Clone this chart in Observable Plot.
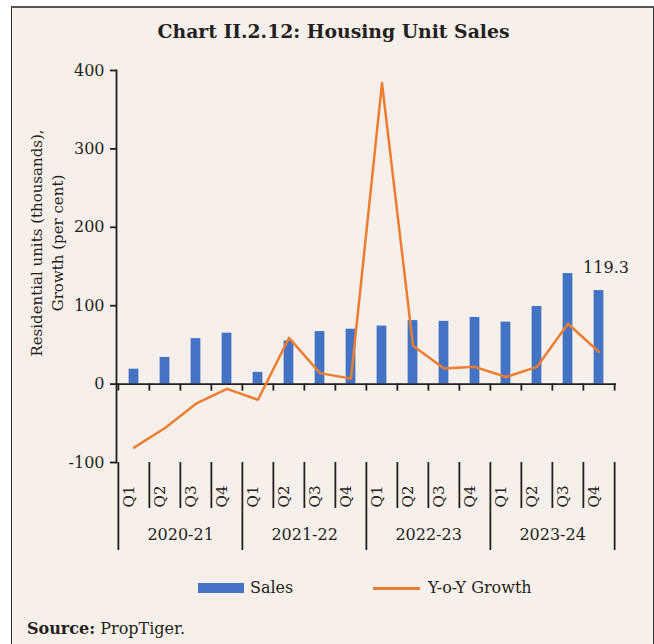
<!DOCTYPE html>
<html>
<head>
<meta charset="utf-8">
<script src="https://cdn.jsdelivr.net/npm/d3@7"></script>
<script src="https://cdn.jsdelivr.net/npm/@observablehq/plot@0.6"></script>
<style>
  html, body { margin: 0; padding: 0; background: #ffffff; }
  body { width: 654px; height: 644px; position: relative; overflow: hidden; font-family: "DejaVu Serif", serif; color: #231f20; }
  #panel { position: absolute; left: 11px; top: 6px; width: 641px; height: 660px; background: #f7efea; border-left: 1.5px solid #333; border-right: 1.5px solid #333; border-top: 2px solid #555; }
  #title { position: absolute; left: 0; width: 667px; top: 19px; text-align: center; font-weight: bold; font-size: 18.8px; line-height: 24px; }
  #ytitle { position: absolute; width: 320px; height: 42px; left: -112.5px; top: 222px; transform: rotate(-90deg); text-align: center; font-size: 15px; line-height: 21px; }
  #chart { position: absolute; left: 0; top: 0; }
  .leg { position: absolute; font-size: 16px; line-height: 18px; }
  #source { position: absolute; left: 27px; top: 620px; font-size: 16px; line-height: 18px; }
</style>
</head>
<body>
<div id="panel"></div>
<div id="title">Chart II.2.12: Housing Unit Sales</div>
<div id="ytitle">Residential units (thousands),<br>Growth (per cent)</div>
<div id="chart"></div>
<div class="leg" style="left:198px;top:583px;width:46px;height:10px;background:#4472c4"></div>
<div class="leg" style="left:250px;top:579px;">Sales</div>
<div class="leg" style="left:373px;top:587px;width:47px;height:2.5px;background:#ed7d31"></div>
<div class="leg" style="left:428px;top:579px;">Y-o-Y Growth</div>
<div id="source"><b>Source:</b> PropTiger.</div>
<script>
const years = ["2020-21", "2021-22", "2022-23", "2023-24"];
const quarters = ["Q1", "Q2", "Q3", "Q4"];
const sales = [19, 34, 58, 65, 15, 55, 67, 70, 74, 81, 80, 85, 79, 99, 141, 119.3];
const growth = [-81, -56, -25, -6, -20, 59, 14, 7, 384, 49, 20, 22, 9, 22, 77, 41];
const yTicks = [-100, 0, 100, 200, 300, 400];
const lastLabel = "119.3";

const cats = years.flatMap(y => quarters.map(q => `${y} ${q}`));
const data = cats.map((c, i) => ({cat: c, year: years[Math.floor(i / 4)], q: quarters[i % 4], sales: sales[i], growth: growth[i]}));

const W = 654, H = 560, mL = 116, mR = 38, mT = 70, mB = 98;
const bw = (W - mL - mR) / cats.length;
const barW = 10;
const ins = (bw - barW) / 2;
const ink = "#231f20";
const yMin = d3.min(yTicks);
const last = data[data.length - 1];

const chart = Plot.plot({
  width: W, height: H,
  marginLeft: mL, marginRight: mR, marginTop: mT, marginBottom: mB,
  style: {background: "transparent", fontFamily: "DejaVu Serif", fontSize: "16px", color: ink},
  x: {type: "band", domain: cats, padding: 0, axis: null},
  y: {domain: [yMin, d3.max(yTicks)], axis: null},
  marks: [
    Plot.barY(data, {x: "cat", y: "sales", fill: "#4472c4", insetLeft: ins, insetRight: ins}),
    Plot.ruleY([0], {stroke: ink, strokeWidth: 1.8}),
    Plot.frame({anchor: "left", stroke: ink, strokeWidth: 1.8}),
    Plot.axisY({ticks: yTicks, tickFormat: d => String(d), tickSize: 6, tickPadding: 6, stroke: ink, strokeWidth: 1.8, label: null, fontSize: 16}),
    // tick marks at category boundaries along y = 0
    Plot.ruleX(data, {x: "cat", y1: 0, y2: 0, dx: -bw / 2, insetBottom: -7, stroke: ink, strokeWidth: 1.8}),
    Plot.ruleX([last], {x: "cat", y1: 0, y2: 0, dx: bw / 2, insetBottom: -7, stroke: ink, strokeWidth: 1.8}),
    // separators below the plot
    Plot.ruleX(data.filter(d => d.q !== "Q1"), {x: "cat", y1: yMin, y2: yMin, dx: -bw / 2, insetBottom: -46, stroke: ink, strokeWidth: 1.8}),
    Plot.ruleX(data.filter(d => d.q === "Q1"), {x: "cat", y1: yMin, y2: yMin, dx: -bw / 2, insetBottom: -88, stroke: ink, strokeWidth: 1.8}),
    Plot.ruleX([last], {x: "cat", y1: yMin, y2: yMin, dx: bw / 2, insetBottom: -88, stroke: ink, strokeWidth: 1.8}),
    Plot.lineY(data, {x: "cat", y: "growth", stroke: "#ed7d31", strokeWidth: 2.5}),
    Plot.text(data, {x: "cat", text: "q", frameAnchor: "bottom", dy: 34, rotate: -90, fontSize: 15, fill: ink}),
    Plot.text(data.filter(d => d.q === "Q2"), {x: "cat", text: "year", frameAnchor: "bottom", dy: 77, dx: bw / 2, fontSize: 16, fill: ink}),
    Plot.text([last], {x: "cat", y: "sales", text: () => lastLabel, dx: 7, dy: -23, fontSize: 16, fill: ink})
  ]
});
document.getElementById("chart").appendChild(chart);
</script>
</body>
</html>
